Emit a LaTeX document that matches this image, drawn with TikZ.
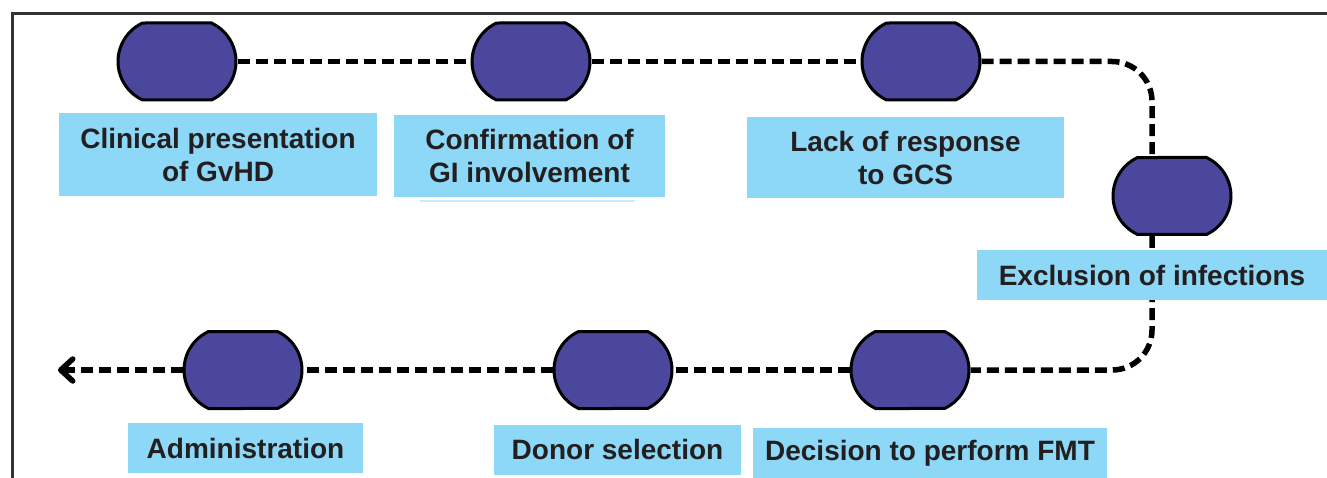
\documentclass[tikz,border=0pt]{standalone}
\usepackage{fontspec}
\setmainfont{Liberation Sans}
\usetikzlibrary{shapes.misc,arrows.meta}

\definecolor{pillfill}{HTML}{4B479D}
\definecolor{labelfill}{HTML}{8DD7F7}
\definecolor{inkdark}{HTML}{231F20}
\definecolor{framegray}{HTML}{333333}
\definecolor{paleline}{HTML}{CDEBF9}

\tikzset{
  pill/.style={rounded rectangle, rounded rectangle arc length=130,
    minimum width=118pt, minimum height=77pt, inner sep=0pt,
    fill=pillfill, draw=black, line width=3pt},
  stagelabel/.style={rectangle, fill=labelfill, text=inkdark, inner sep=0pt,
    align=center, font=\fontsize{28}{33}\selectfont\bfseries},
  flow/.style={draw=black, line width=5.5pt, dash pattern=on 12pt off 6pt},
  framestroke/.style={draw=framegray, line width=3pt}
}

\begin{document}
\begin{tikzpicture}[x=1pt, y=-1pt]
  \useasboundingbox (0,0) rectangle (1327,478);

  % outer frame (top and left edges)
  \draw[framestroke] (12,478) -- (12,14) -- (1327,14);

  % stage markers
  \node[pill] (p1) at (177,61.5) {};
  \node[pill] (p2) at (531,61.5) {};
  \node[pill] (p3) at (921,61.5) {};
  \node[pill] (p4) at (1172,196) {};
  \node[pill] (p5) at (910,370) {};
  \node[pill] (p6) at (613,370) {};
  \node[pill] (p7) at (243,370) {};
  \coordinate (out) at (58,370);

  % dashed timeline
  \draw[flow] (p1.east) -- (p2.west);
  \draw[flow] (p2.east) -- (p3.west);
  \draw[flow, rounded corners=40pt] (p3.east) -| ([xshift=-20pt]p4.north);
  \draw[flow, rounded corners=40pt] ([xshift=-20pt]p4.south) |- (p5.east);
  \draw[flow] (p5.west) -- (p6.east);
  \draw[flow] (p6.west) -- (p7.east);
  \draw[flow, -{Straight Barb[length=12pt, width=22pt, round]}] (p7.west) -- (out);

  % stage labels
  \node[stagelabel, minimum width=318pt, minimum height=83pt] (l1) at (218,154.5)
    {Clinical presentation\\of GvHD};
  \node[stagelabel, minimum width=271pt, minimum height=82pt] (l2) at (529.5,156)
    {Confirmation of\\GI involvement};
  \node[stagelabel, minimum width=317pt, minimum height=81pt] (l3) at (905.5,157.5)
    {Lack of response\\to GCS};
  \node[stagelabel, minimum width=350pt, minimum height=50pt] (l4) at (1152,275)
    {Exclusion of infections};
  \node[stagelabel, minimum width=354pt, minimum height=50pt] (l5) at (930,453)
    {Decision to perform FMT};
  \node[stagelabel, minimum width=247pt, minimum height=50pt] (l6) at (617.5,449.5)
    {Donor selection};
  \node[stagelabel, minimum width=235pt, minimum height=50pt] (l7) at (245.5,448)
    {Administration};

  % thin pale rule beneath the second label
  \draw[paleline, line width=1.5pt] ([xshift=26pt,yshift=-4pt]l2.south west) -- ([xshift=-30pt,yshift=-4pt]l2.south east);
\end{tikzpicture}
\end{document}
